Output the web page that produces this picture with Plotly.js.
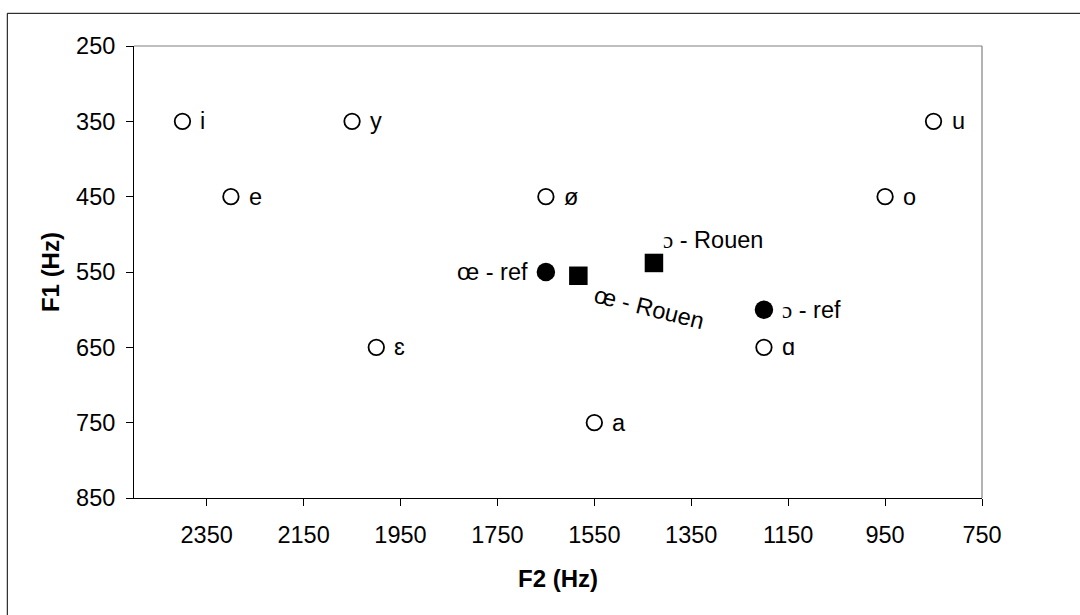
<!DOCTYPE html>
<html>
<head>
<meta charset="utf-8">
<script src="https://cdn.plot.ly/plotly-3.0.1.min.js"></script>
<style>html,body{margin:0;padding:0;background:#fff;}#chart{width:1080px;height:615px;}</style>
</head>
<body>
<div id="chart"></div>
<script>
// Reference vowels (open circles)
const refLabels = ['i', 'y', 'e', 'ø', 'ɛ', 'a', 'ɑ', 'o', 'u'];
const refF2 = [2400, 2050, 2300, 1650, 2000, 1550, 1200, 950, 850];
const refF1 = [350, 350, 450, 450, 650, 750, 650, 450, 350];

// Reference values for œ and ɔ (filled circles)
const targetLabels = ['œ - ref', 'ɔ - ref'];
const targetF2 = [1650, 1200];
const targetF1 = [550, 600];

// Rouen speakers (filled squares)
const rouenLabels = ['ɔ - Rouen', 'œ - Rouen'];
const rouenF2 = [1427, 1583];
const rouenF1 = [538, 555];

// Axis ticks
const xTicks = [2350, 2150, 1950, 1750, 1550, 1350, 1150, 950, 750];
const yTicks = [250, 350, 450, 550, 650, 750, 850];

const FONT = 'Liberation Sans, Arial, sans-serif';
const FS = 23.5;

// the open-o glyph is drawn in a thinner serif face in the original
function fmt(t) {
  return t.replace('ɔ', '<span style="font-family:\'Liberation Serif\', serif;font-size:23px">ɔ</span>');
}

const traces = [
  {
    x: refF2, y: refF1, mode: 'markers', type: 'scatter', name: 'ref vowels',
    marker: {symbol: 'circle', size: 15.5, color: '#ffffff', line: {color: '#000000', width: 1.8}},
    hoverinfo: 'skip'
  },
  {
    x: targetF2, y: targetF1, mode: 'markers', type: 'scatter', name: 'ref',
    marker: {symbol: 'circle', size: 18.5, color: '#000000', line: {width: 0}},
    hoverinfo: 'skip'
  },
  {
    x: rouenF2, y: rouenF1, mode: 'markers', type: 'scatter', name: 'Rouen',
    marker: {symbol: 'square', size: 18.5, color: '#000000', line: {width: 0}},
    hoverinfo: 'skip'
  }
];

const lblFont = {family: FONT, size: FS, color: '#000000'};
const annotations = [];
refLabels.forEach((t, i) => annotations.push({
  x: refF2[i], y: refF1[i], xref: 'x', yref: 'y', text: t, showarrow: false,
  xanchor: 'left', yanchor: 'middle', xshift: 16, font: lblFont
}));
// œ - ref : label on the left
annotations.push({x: targetF2[0], y: targetF1[0], xref: 'x', yref: 'y', text: fmt(targetLabels[0]),
  showarrow: false, xanchor: 'right', yanchor: 'middle', xshift: -16, font: lblFont});
// ɔ - ref : label on the right
annotations.push({x: targetF2[1], y: targetF1[1], xref: 'x', yref: 'y', text: fmt(targetLabels[1]),
  showarrow: false, xanchor: 'left', yanchor: 'middle', xshift: 16, font: lblFont});
// ɔ - Rouen : above right
annotations.push({x: rouenF2[0], y: rouenF1[0], xref: 'x', yref: 'y', text: fmt(rouenLabels[0]),
  showarrow: false, xanchor: 'left', yanchor: 'middle', xshift: 7, yshift: 23, font: lblFont});
// œ - Rouen : rotated, below right
annotations.push({x: rouenF2[1], y: rouenF1[1], xref: 'x', yref: 'y', text: fmt(rouenLabels[1]),
  showarrow: false, xanchor: 'center', yanchor: 'middle', xshift: 71, yshift: -32, textangle: 14, font: lblFont});
// Axis titles
annotations.push({x: 0.5, y: -0.179, xref: 'paper', yref: 'paper', text: '<b>F2 (Hz)</b>',
  showarrow: false, xanchor: 'center', yanchor: 'middle', font: {family: FONT, size: 24, color: '#000'}});
annotations.push({x: -0.099, y: 0.5, xref: 'paper', yref: 'paper', text: '<b>F1 (Hz)</b>', textangle: -90,
  showarrow: false, xanchor: 'center', yanchor: 'middle', font: {family: FONT, size: 24, color: '#000'}});

const layout = {
  width: 1080, height: 615,
  margin: {l: 134, r: 98, t: 46, b: 117, pad: 0},
  paper_bgcolor: '#ffffff', plot_bgcolor: '#ffffff',
  showlegend: false,
  font: {family: FONT, size: FS, color: '#000000'},
  xaxis: {
    range: [2500, 750], tickmode: 'array', tickvals: xTicks, ticktext: xTicks.map(String),
    showgrid: false, zeroline: false, showline: true, linecolor: '#000000', linewidth: 1,
    ticks: 'outside', ticklen: 7, tickcolor: '#000000', tickwidth: 1,
    ticklabelstandoff: 9, tickfont: {family: FONT, size: FS, color: '#000'}, automargin: false
  },
  yaxis: {
    range: [850, 250], tickmode: 'array', tickvals: yTicks, ticktext: yTicks.map(String),
    showgrid: false, zeroline: false, showline: true, linecolor: '#000000', linewidth: 1,
    ticks: 'outside', ticklen: 7, tickcolor: '#000000', tickwidth: 1,
    ticklabelstandoff: 6, tickfont: {family: FONT, size: FS, color: '#000'}, automargin: false
  },
  shapes: [
    {type: 'line', xref: 'paper', yref: 'paper', x0: 0, x1: 1, y0: 1, y1: 1, line: {color: '#808080', width: 1.2}},
    {type: 'line', xref: 'paper', yref: 'paper', x0: 1, x1: 1, y0: 0, y1: 1, line: {color: '#808080', width: 1.2}},
    {type: 'line', xref: 'paper', yref: 'paper', x0: -0.1494, x1: 1.2, y0: 1.0723, y1: 1.0723, line: {color: '#000000', width: 1}},
    {type: 'line', xref: 'paper', yref: 'paper', x0: -0.1494, x1: -0.1494, y0: -0.3, y1: 1.0723, line: {color: '#000000', width: 1}}
  ],
  annotations: annotations
};

Plotly.newPlot('chart', traces, layout, {staticPlot: true, displayModeBar: false});
</script>
</body>
</html>
